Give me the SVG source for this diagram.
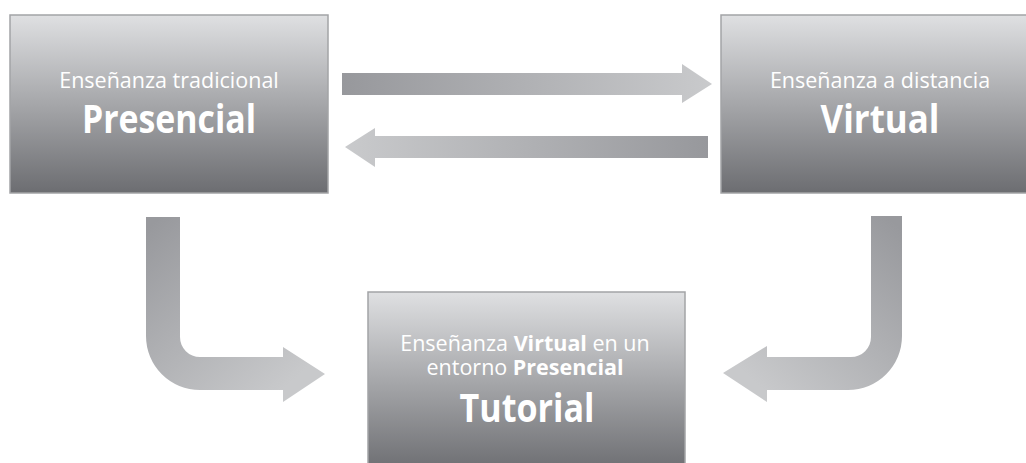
<svg xmlns="http://www.w3.org/2000/svg" width="1026" height="463" viewBox="0 0 1026 463">
<defs>
<linearGradient id="box" x1="0" y1="0" x2="0" y2="1">
<stop offset="0" stop-color="#dfe0e2"/>
<stop offset="1" stop-color="#6c6d71"/>
</linearGradient>
<linearGradient id="arrR" x1="0" y1="0" x2="1" y2="0">
<stop offset="0" stop-color="#97989c"/>
<stop offset="1" stop-color="#c9cacc"/>
</linearGradient>
<linearGradient id="arrL" x1="1" y1="0" x2="0" y2="0">
<stop offset="0" stop-color="#97989c"/>
<stop offset="1" stop-color="#c9cacc"/>
</linearGradient>
<linearGradient id="bendL" gradientUnits="userSpaceOnUse" x1="160" y1="217" x2="300" y2="374">
<stop offset="0" stop-color="#98999d"/>
<stop offset="1" stop-color="#c8c9cb"/>
</linearGradient>
<linearGradient id="bendR" gradientUnits="userSpaceOnUse" x1="887" y1="216" x2="745" y2="373">
<stop offset="0" stop-color="#98999d"/>
<stop offset="1" stop-color="#c8c9cb"/>
</linearGradient>
</defs>
<style>
.box{fill:url(#box);stroke:#a3a4a6;stroke-width:1.5}
.t{font-family:"Open Sans","Noto Sans",sans-serif;fill:#ffffff;text-anchor:middle}
.s{font-size:21.5px}
.b{font-size:39px;font-weight:bold}
.bb{font-weight:bold}
</style>
<rect width="1026" height="463" fill="#ffffff"/>
<g id="connectors">
<path d="M342,73 H682 V64 L712,84 L682,103 V95 H342 Z" fill="url(#arrR)"/>
<path d="M708,136 V158 H375 V167 L345,147 L375,128 V136 Z" fill="url(#arrL)"/>
<path d="M146,217 H180 V337 A20,20 0 0 0 200,357 H283 V347 L325,374 L283,402 V390 H200 A54,54 0 0 1 146,336 Z" fill="url(#bendL)"/>
<path d="M902,216 V336 A54,54 0 0 1 848,390 H767 V402 L723,373 L767,346 V357 H851 A20,20 0 0 0 871,337 V216 Z" fill="url(#bendR)"/>
</g>
<g id="presencial">
<rect class="box" x="10" y="15" width="318" height="178"/>
<text class="t s" x="169" y="88">Enseñanza tradicional</text>
<text class="t b" x="169" y="133" textLength="174" lengthAdjust="spacingAndGlyphs">Presencial</text>
</g>
<g id="virtual">
<rect class="box" x="721" y="15" width="318" height="178"/>
<text class="t s" x="880" y="88">Enseñanza a distancia</text>
<text class="t b" x="880" y="133" textLength="119" lengthAdjust="spacingAndGlyphs">Virtual</text>
</g>
<g id="tutorial">
<rect class="box" x="368" y="292" width="317" height="180"/>
<text class="t s" x="525" y="351">Enseñanza <tspan class="bb">Virtual</tspan> en un</text>
<text class="t s" x="525" y="375">entorno <tspan class="bb">Presencial</tspan></text>
<text class="t b" x="527" y="422" textLength="135" lengthAdjust="spacingAndGlyphs">Tutorial</text>
</g>
</svg>
